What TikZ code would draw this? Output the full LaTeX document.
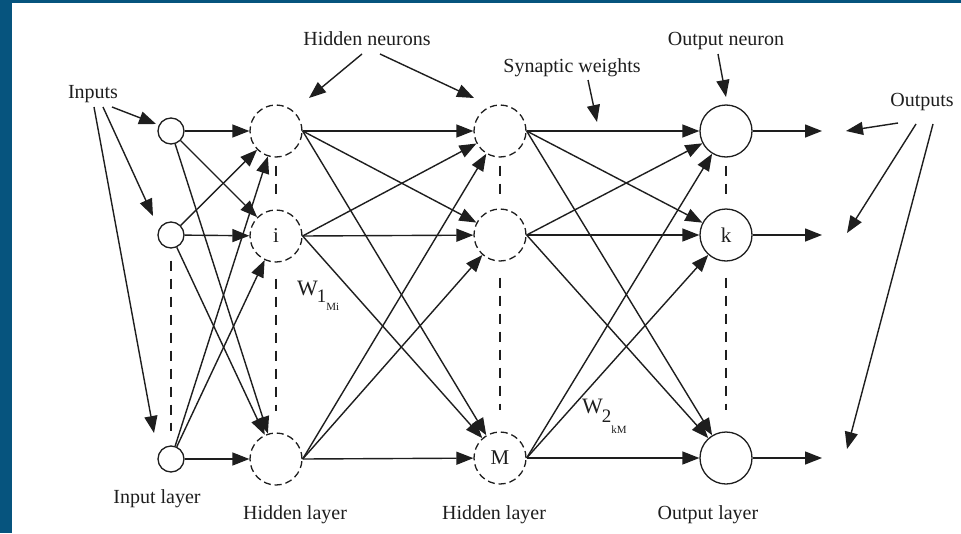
\documentclass[tikz,border=0pt]{standalone}
\usepackage{fontspec}
\setmainfont{Liberation Serif}
\usetikzlibrary{arrows.meta}
\definecolor{frame}{RGB}{6,84,126}
\definecolor{ink}{RGB}{30,30,30}

\begin{document}
\begin{tikzpicture}[x=1pt,y=-1pt,
  link/.style={draw=ink, line width=1.4pt, -{Triangle[length=17pt,width=13pt]}},
  small/.style={circle, draw=ink, line width=1.3pt, minimum size=26pt, inner sep=0pt},
  big/.style={circle, draw=ink, line width=1.3pt, minimum size=52pt, inner sep=0pt,
              text=ink, font=\fontsize{21}{24}\selectfont},
  hid/.style={big, dash pattern=on 7pt off 4pt},
  vdots/.style={draw=ink, line width=1.6pt, dash pattern=on 10pt off 8pt},
  lbl/.style={font=\fontsize{20}{24}\selectfont, text=ink, inner sep=0pt, anchor=base},
]
% frame and canvas
\fill[frame] (0,0) rectangle (961,533);
\fill[white] (12,3) rectangle (961,533);
\useasboundingbox (0,0) rectangle (961,533);

% input layer
\node[small] (i1) at (171,131) {};
\node[small] (i2) at (171,235) {};
\node[small] (i3) at (171,459) {};
% first hidden layer
\node[hid] (a1) at (276,131) {};
\node[hid] (a2) at (276,236) {i};
\node[hid] (a3) at (276,459) {};
% second hidden layer
\node[hid] (b1) at (500,131) {};
\node[hid] (b2) at (500,235) {};
\node[hid] (b3) at (500,458) {M};
% output layer
\node[big] (o1) at (726,131) {};
\node[big] (o2) at (726,235) {k};
\node[big] (o3) at (726,458) {};

% free ends of the output arrows
\coordinate (y1) at (822,131);
\coordinate (y2) at (822,235);
\coordinate (y3) at (822,458);

% full connections between layers
\foreach \s in {1,2,3}{
  \foreach \t in {1,2,3}{
    \draw[link] (i\s) -- (a\t);
    \draw[link] (a\s.east) -- (b\t);
    \draw[link] (b\s.east) -- (o\t);
  }
  \draw[link] (o\s) -- (y\s);
}

% vertical ellipsis lines
\draw[vdots] ([yshift=-12pt]i2.south) -- ([yshift=14pt]i3.north);
\foreach \l in {a,b,o}{
  \draw[vdots] ([yshift=-8pt]\l1.south) -- ([yshift=12pt]\l2.north);
  \draw[vdots] ([yshift=-16pt]\l2.south) -- ([yshift=21pt]\l3.north);
}

% annotations
\node[lbl] (tIn)  at (93,98)   {Inputs};
\node[lbl] (tHN)  at (367,45)  {Hidden neurons};
\node[lbl] (tSW)  at (572,72)  {Synaptic weights};
\node[lbl] (tON)  at (726,45)  {Output neuron};
\node[lbl] (tOut) at (922,106) {Outputs};

\node[lbl] (lIn)  at (157,503) {Input layer};
\node[lbl] (lH1)  at (295,519) {Hidden layer};
\node[lbl] (lH2)  at (494,519) {Hidden layer};
\node[lbl] (lOut) at (708,519) {Output layer};

\node[lbl, anchor=base west, font=\fontsize{22}{24}\selectfont] (w1) at (297,295)
  {W\hspace{-1pt}\raisebox{-7pt}{\fontsize{19}{19}\selectfont 1\raisebox{-8pt}{\fontsize{11}{11}\selectfont Mi}}};
\node[lbl, anchor=base west, font=\fontsize{22}{24}\selectfont] (w2) at (582,413)
  {W\hspace{-1pt}\raisebox{-9pt}{\fontsize{19}{19}\selectfont 2\raisebox{-11pt}{\fontsize{11}{11}\selectfont kM}}};

% pointer targets
\coordinate (pIn1) at (156,124);
\coordinate (pIn2) at (153,216);
\coordinate (pIn3) at (154,433);
\coordinate (pH1)  at (309,98);
\coordinate (pH2)  at (474,98);
\coordinate (pSW)  at (597,122);
\coordinate (pON)  at (726,97);
\coordinate (pO1)  at (846,131);
\coordinate (pO2)  at (847,233);
\coordinate (pO3)  at (847,449);

\draw[link] ([shift={(19,9)}]tIn.base) -- (pIn1);
\draw[link] ([shift={(10,9)}]tIn.base) -- (pIn2);
\draw[link] ([shift={(1,9)}]tIn.base)  -- (pIn3);
\draw[link] ([shift={(-5,9)}]tHN.base) -- (pH1);
\draw[link] ([shift={(13,9)}]tHN.base) -- (pH2);
\draw[link] ([shift={(16,8)}]tSW.base) -- (pSW);
\draw[link] ([shift={(-8,9)}]tON.base) -- (pON);
\draw[link] ([shift={(-24,17)}]tOut.base) -- (pO1);
\draw[link] ([shift={(-6,18)}]tOut.base)  -- (pO2);
\draw[link] ([shift={(11,18)}]tOut.base)  -- (pO3);
\end{tikzpicture}
\end{document}
